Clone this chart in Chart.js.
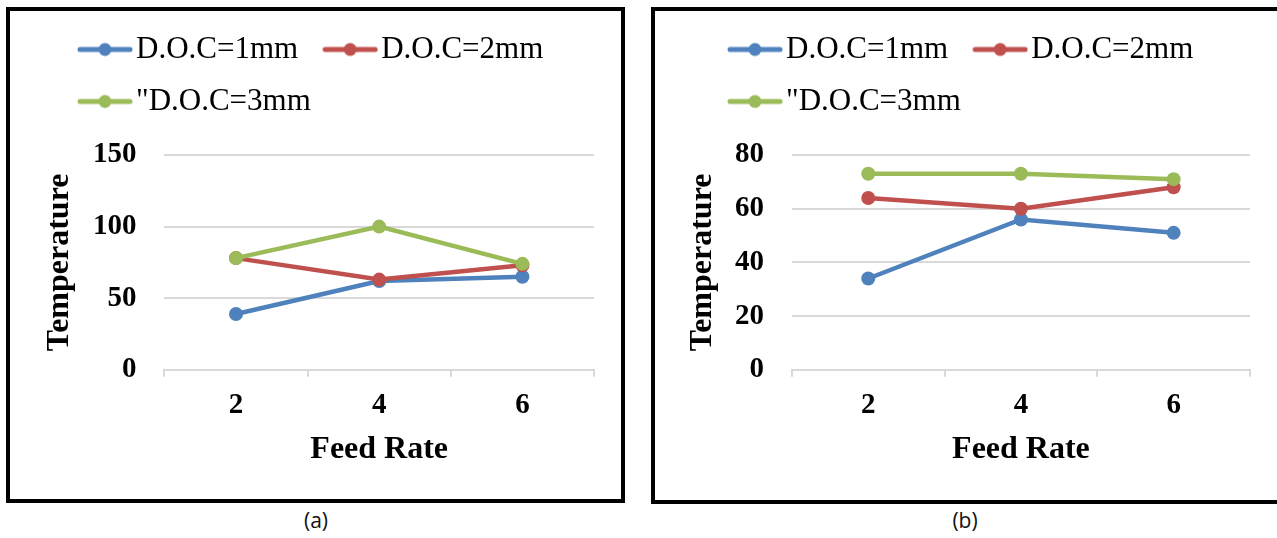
<!DOCTYPE html>
<html>
<head>
<meta charset="utf-8">
<script src="https://cdn.jsdelivr.net/npm/chart.js@4.4.1/dist/chart.umd.min.js"></script>
<style>
  html, body { margin: 0; padding: 0; background: #fff; overflow: hidden; width: 1277px; height: 538px; }
  .box { position: absolute; border: 4px solid #000; }
  #boxA { left: 6px; top: 7px; width: 611px; height: 488px; }
  #boxB { left: 651px; top: 7px; width: 632px; height: 489px; }
  .cap { position: absolute; top: 505px; width: 100px; line-height: 30px; text-align: center; font-family: 'Open Sans', sans-serif; font-size: 21px; color: #111; }
</style>
</head>
<body>
<div class="box" id="boxA"><canvas id="chartA" width="611" height="488"></canvas></div>
<div class="box" id="boxB"><canvas id="chartB" width="632" height="488"></canvas></div>
<div class="cap" style="left:266px">(a)</div>
<div class="cap" style="left:915px">(b)</div>
<script>
// x categories (feed rate) and series names
const feedRate = ['2', '4', '6'];
const seriesNames = ['D.O.C=1mm', 'D.O.C=2mm', '"D.O.C=3mm'];
const colors = ['#4F81BD', '#C0504D', '#9BBB59'];

// (a) temperatures
const tempA1 = [39, 62, 65];
const tempA2 = [78, 63, 73];
const tempA3 = [78, 100, 74];
const ticksA = [0, 50, 100, 150];

// (b) temperatures
const tempB1 = [34, 56, 51];
const tempB2 = [64, 60, 68];
const tempB3 = [73, 73, 71];
const ticksB = [0, 20, 40, 60, 80];

Chart.defaults.font.family = 'Liberation Serif';

// line + dot marker like the Excel legend
function legendMark(color) {
  const c = document.createElement('canvas');
  c.width = 56; c.height = 16;
  const g = c.getContext('2d');
  g.strokeStyle = color; g.lineWidth = 5; g.lineCap = 'round';
  g.beginPath(); g.moveTo(3, 8); g.lineTo(53, 8); g.stroke();
  g.fillStyle = color;
  g.beginPath(); g.arc(28, 8, 6.5, 0, Math.PI * 2); g.fill();
  return c;
}

// legend gap below + move legend right
const legendTweak = {
  id: 'legendTweak',
  beforeInit(chart, args, opts) {
    const fit = chart.legend.fit;
    chart.legend.fit = function () { fit.call(this); this.height += opts.extra; };
  },
  afterLayout(chart, args, opts) {
    chart.legend.left += opts.shift;
    chart.legend.right += opts.shift;
  }
};

function makeSets(vals) {
  return vals.map((v, i) => ({
    label: seriesNames[i],
    data: v,
    borderColor: colors[i],
    backgroundColor: colors[i],
    pointBackgroundColor: colors[i],
    borderWidth: 4.5,
    pointRadius: 7,
    pointBorderWidth: 0,
    tension: 0,
    order: 3 - i
  }));
}

const boldFont = (s) => ({ family: 'Liberation Serif', size: s, weight: 'bold' });

function makeChart(id, sets, ticks, pad, tweak, yTitlePad) {
  return new Chart(document.getElementById(id), {
    type: 'line',
    data: { labels: feedRate, datasets: sets },
    options: {
      responsive: false,
      animation: false,
      events: [],
      layout: { padding: pad },
      plugins: {
        tooltip: { enabled: false },
        legendTweak: tweak,
        legend: {
          position: 'top',
          align: 'start',
          labels: {
            usePointStyle: true,
            pointStyleWidth: 31,
            padding: 21,
            color: '#000',
            font: { family: 'Liberation Serif', size: 31 },
            generateLabels(chart) {
              return chart.data.datasets.map((ds, i) => ({
                text: ds.label + '\u2002',
                pointStyle: legendMark(ds.borderColor),
                datasetIndex: i,
                hidden: false,
                lineWidth: 0,
                fillStyle: ds.borderColor,
                strokeStyle: ds.borderColor,
                fontColor: '#000'
              }));
            }
          }
        }
      },
      scales: {
        x: {
          offset: true,
          grid: { offset: true, drawOnChartArea: false, drawTicks: true, tickLength: 7, color: '#d9d9d9', lineWidth: 2 },
          border: { color: '#d9d9d9', width: 2 },
          ticks: { padding: 11, color: '#000', font: boldFont(29) },
          title: { display: true, text: 'Feed Rate', color: '#000', font: boldFont(32), padding: { top: -3, bottom: 30 } }
        },
        y: {
          min: ticks[0],
          max: ticks[ticks.length - 1],
          grid: { color: '#d9d9d9', lineWidth: 2, drawTicks: false },
          border: { display: false },
          ticks: { stepSize: ticks[1] - ticks[0], padding: 28, color: '#000', font: boldFont(29) },
          title: { display: true, text: 'Temperature', color: '#000', font: boldFont(32), padding: yTitlePad }
        }
      }
    },
    plugins: [legendTweak]
  });
}

makeChart('chartA', makeSets([tempA1, tempA2, tempA3]), ticksA,
  { top: 2, left: 0, right: 27, bottom: 0 }, { extra: 28, shift: 58.5 }, { top: 31, bottom: -14.5 });
makeChart('chartB', makeSets([tempB1, tempB2, tempB3]), ticksB,
  { top: 2, left: 0, right: 37, bottom: 0 }, { extra: 28, shift: 63.5 }, { top: 29, bottom: -15.5 });
</script>
</body>
</html>
